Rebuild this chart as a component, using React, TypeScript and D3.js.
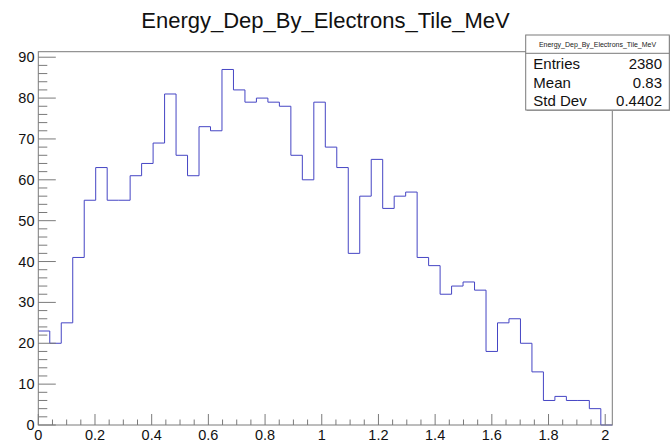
import { useEffect, useRef } from "react";
import * as d3 from "d3";

const TITLE = "Energy_Dep_By_Electrons_Tile_MeV";
const X_MIN = 0;
const X_MAX = 2.025;
const Y_MAX = 91.35;

// bin contents, 50 bins from X_MIN to X_MAX
const COUNTS = [
  23, 20, 25, 41, 55, 63, 55, 55, 61, 64,
  69, 81, 66, 61, 73, 72, 87, 82, 79, 80,
  79, 78, 66, 60, 79, 68, 63, 42, 56, 65,
  53, 56, 57, 41, 39, 32, 34, 35, 33, 18,
  25, 26, 20, 13, 6, 7, 6, 6, 4, 0,
];

const X_TICKS = [0, 0.2, 0.4, 0.6, 0.8, 1, 1.2, 1.4, 1.6, 1.8, 2];
const Y_TICKS = [0, 10, 20, 30, 40, 50, 60, 70, 80, 90];

const STAT_LABELS = ["Entries", "Mean", "Std Dev"];
const STAT_VALUES = ["2380", "0.83", "0.4402"];

const W = 670;
const H = 443;
const FONT = "'Liberation Sans', Arial, Helvetica, sans-serif";
const LINE_COLOR = "#4545c4";
const AXIS_COLOR = "#7a7a7a";

export default function App() {
  const svgRef = useRef<SVGSVGElement>(null);

  useEffect(() => {
    const svg = d3.select(svgRef.current);
    svg.selectAll("*").remove();

    const margin = { top: 51.7, right: 57.7, bottom: 18, left: 38.3 };
    const x = d3.scaleLinear().domain([X_MIN, X_MAX]).range([margin.left, W - margin.right]);
    const y = d3.scaleLinear().domain([0, Y_MAX]).range([H - margin.bottom, margin.top]);

    svg.append("rect").attr("width", W).attr("height", H).attr("fill", "#fff");

    // title
    svg.append("text")
      .attr("x", 325.5).attr("y", 28)
      .attr("text-anchor", "middle")
      .style("font-family", FONT).style("font-size", "22px")
      .attr("fill", "#111")
      .text(TITLE);

    // histogram outline
    const bw = (X_MAX - X_MIN) / COUNTS.length;
    const pts: [number, number][] = [];
    COUNTS.forEach((c, i) => {
      pts.push([x(X_MIN + i * bw), y(c)]);
      pts.push([x(X_MIN + (i + 1) * bw), y(c)]);
    });
    svg.append("path")
      .attr("d", d3.line()(pts))
      .attr("fill", "none")
      .attr("stroke", LINE_COLOR)
      .attr("stroke-width", 1);

    // frame
    svg.append("rect")
      .attr("x", x(X_MIN)).attr("y", y(Y_MAX))
      .attr("width", x(X_MAX) - x(X_MIN))
      .attr("height", y(0) - y(Y_MAX))
      .attr("fill", "none")
      .attr("stroke", AXIS_COLOR)
      .attr("stroke-width", 1);

    const g = svg.append("g").attr("stroke", AXIS_COLOR).attr("stroke-width", 1);

    // x ticks
    const xMinor = d3.range(0, 41).map(i => i * 0.05);
    xMinor.forEach(v => {
      const major = Math.abs(v / 0.2 - Math.round(v / 0.2)) < 1e-6;
      g.append("line")
        .attr("x1", x(v)).attr("x2", x(v))
        .attr("y1", y(0)).attr("y2", y(0) - (major ? 11 : 5.5));
    });
    X_TICKS.forEach(v => {
      svg.append("text")
        .attr("x", x(v)).attr("y", 440)
        .attr("text-anchor", "middle")
        .style("font-family", FONT).style("font-size", "14.5px")
        .attr("fill", "#111")
        .text(d3.format("~g")(v));
    });

    // y ticks
    const yMinor = d3.range(0, 46).map(i => i * 2);
    yMinor.forEach(v => {
      const major = v % 10 === 0;
      g.append("line")
        .attr("x1", x(X_MIN)).attr("x2", x(X_MIN) + (major ? 17.5 : 9))
        .attr("y1", y(v)).attr("y2", y(v));
    });
    Y_TICKS.forEach(v => {
      svg.append("text")
        .attr("x", 34.5).attr("y", y(v) + 5)
        .attr("text-anchor", "end")
        .style("font-family", FONT).style("font-size", "14.5px")
        .attr("fill", "#111")
        .text(v);
    });

    // stats box
    const bx = 525.7, by = 35, bW = 143.6, bH = 75;
    const box = svg.append("g");
    box.append("rect")
      .attr("x", bx + 1).attr("y", by + 1).attr("width", bW).attr("height", bH)
      .attr("fill", "#aaa");
    box.append("rect")
      .attr("x", bx).attr("y", by).attr("width", bW).attr("height", bH)
      .attr("fill", "#fff").attr("stroke", AXIS_COLOR);
    box.append("line")
      .attr("x1", bx).attr("x2", bx + bW).attr("y1", 53.3).attr("y2", 53.3)
      .attr("stroke", AXIS_COLOR);
    box.append("text")
      .attr("x", bx + bW / 2).attr("y", 47)
      .attr("text-anchor", "middle")
      .style("font-family", FONT).style("font-size", "7px")
      .attr("fill", "#222")
      .text(TITLE);
    STAT_LABELS.forEach((lab, i) => {
      const yy = 69.3 + i * 18.3;
      box.append("text")
        .attr("x", 533.3).attr("y", yy)
        .style("font-family", FONT).style("font-size", "15px")
        .attr("fill", "#111")
        .text(lab);
      box.append("text")
        .attr("x", 662).attr("y", yy)
        .attr("text-anchor", "end")
        .style("font-family", FONT).style("font-size", "15px")
        .attr("fill", "#111")
        .text(STAT_VALUES[i]);
    });
  }, []);

  return (
    <svg
      ref={svgRef}
      width={W}
      height={H}
      style={{ position: "fixed", left: 0, top: 0, display: "block" }}
    />
  );
}
